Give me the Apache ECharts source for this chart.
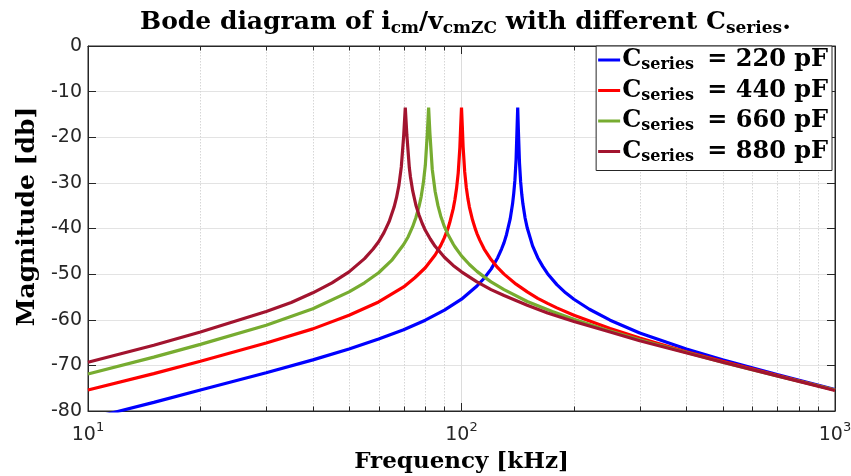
<!DOCTYPE html>
<html><head><meta charset="utf-8">
<script src="https://cdn.jsdelivr.net/npm/echarts@6/dist/echarts.min.js"></script>
<style>html,body{margin:0;padding:0;background:#fff}#c{width:851px;height:476px}</style>
</head><body><div id="c"></div>
<script>
// Capacitance values (pF) for the legend
const capValues = ['220', '440', '660', '880'];
const seriesColors = ['#0000FF', '#FF0000', '#77AC30', '#A2142F'];

// Frequency (kHz) / magnitude (dB)
const freq220 = [10,12,15,20,30,40,50,60,70,80,90,100,110,115,120,125,128,130,132,135,137,138,139,140,141,141.42,142,143,144,145,146,148,150,155,160,165,170,180,190,200,220,250,300,400,500,700,1000];
const mag220  = [-81.8,-80.1,-78.1,-75.4,-71.6,-68.8,-66.4,-64.2,-62.2,-60.1,-57.9,-55.5,-52.6,-50.9,-48.9,-46.4,-44.5,-43.1,-41.3,-37.9,-34.6,-32.3,-29.4,-24.9,-16.8,-13.5,-18.5,-25.7,-29.8,-32.5,-34.6,-37.7,-39.9,-43.8,-46.4,-48.3,-49.9,-52.3,-54.1,-55.5,-57.7,-60.1,-62.9,-66.4,-68.8,-72.0,-75.3];

const freq440 = [10,15,20,30,40,50,60,70,75,80,85,88,90,92,93,95,96,97,98,99,99.5,100,100.5,101,102,103,104,105,107,109,110,112,115,120,125,130,140,150,160,170,180,200,250,300,400,500,700,1000];
const mag440  = [-75.4,-71.8,-69.1,-65.1,-62.0,-59.0,-56.1,-52.8,-50.8,-48.6,-45.8,-43.7,-42.0,-40.0,-38.7,-35.7,-33.7,-31.2,-27.8,-22.2,-17.6,-13.5,-17.6,-22.1,-27.6,-31.0,-33.4,-35.3,-38.1,-40.2,-41.1,-42.6,-44.5,-46.8,-48.6,-50.0,-52.2,-53.9,-55.3,-56.4,-57.4,-59.0,-61.9,-64.0,-67.0,-69.1,-72.2,-75.4];

const freq660 = [10,15,20,30,40,50,55,60,65,70,72,74,75.5,77,78,79,80,81,81.65,82.3,83.5,85,86.5,88,90,92,95,96,100,105,110,115,120,130,150,175,200,250,300,500,700,1000];
const mag660  = [-71.9,-68.2,-65.4,-61.2,-57.6,-53.9,-51.9,-49.7,-47.0,-43.5,-41.8,-39.6,-37.6,-35.1,-33.0,-30.1,-26.2,-19.2,-13.5,-19.1,-27.0,-31.9,-35.0,-37.3,-39.6,-41.3,-43.4,-44.0,-46.0,-47.9,-49.4,-50.6,-51.7,-53.4,-56.0,-58.2,-59.9,-62.5,-64.4,-69.3,-72.3,-75.4];

const freq880 = [10,15,20,30,35,40,45,50,55,58,60,62,64,66,67,68,69,70,70.71,71.4,72.5,73,74,75.5,77,78.5,80,82.5,85,90,95,100,110,120,130,150,170,200,250,300,500,700,1000];
const mag880  = [-69.3,-65.6,-62.7,-58.2,-56.2,-54.1,-51.9,-49.5,-46.6,-44.5,-42.9,-40.9,-38.5,-35.3,-33.2,-30.5,-26.5,-19.8,-13.5,-19.5,-26.7,-28.7,-31.7,-34.9,-37.1,-38.9,-40.4,-42.3,-43.9,-46.3,-48.1,-49.5,-51.7,-53.4,-54.7,-56.8,-58.5,-60.4,-62.7,-64.6,-69.3,-72.3,-75.5];

// Axis tick values
const xMajorTicks = [10, 100, 1000];
const xMinorTicks = [20,30,40,50,60,70,80,90,200,300,400,500,600,700,800,900];
const yTicks = [0,-10,-20,-30,-40,-50,-60,-70,-80];

const freqs = [freq220, freq440, freq660, freq880];
const mags = [mag220, mag440, mag660, mag880];

const serifBold = {fontFamily: 'DejaVu Serif', fontWeight: 'bold', color: '#000'};
const richSet = (size, subSize, lh) => ({
  t: Object.assign({fontSize: size, lineHeight: lh, verticalAlign: 'middle'}, serifBold),
  s: Object.assign({fontSize: subSize, lineHeight: subSize, verticalAlign: 'bottom'}, serifBold)
});

const series = capValues.map((c, i) => ({
  name: c,
  type: 'line',
  showSymbol: false,
  symbol: 'none',
  z: 3,
  lineStyle: {width: 3.2, color: seriesColors[i]},
  itemStyle: {color: seriesColors[i]},
  data: freqs[i].map((f, k) => [f, mags[i][k]])
}));

// minor log grid lines and minor ticks (top & bottom), positioned through the axis scales
series.push({
  name: 'minor',
  type: 'custom',
  z: 1,
  silent: true,
  encode: {x: 0, y: 1},
  data: xMinorTicks.map(v => [v, 0]),
  renderItem: (params, api) => {
    const v = api.value(0);
    const top = api.coord([v, 0]);
    const bot = api.coord([v, -80]);
    const x = Math.round(top[0]) + 0.5;
    return {
      type: 'group',
      children: [
        {type: 'line', shape: {x1: x, y1: top[1], x2: x, y2: bot[1]},
         style: {stroke: '#d6d6d6', lineWidth: 1, lineDash: [1.5, 1.5]}},
        {type: 'line', shape: {x1: x, y1: bot[1], x2: x, y2: bot[1] - 4.5},
         style: {stroke: '#262626', lineWidth: 1}},
        {type: 'line', shape: {x1: x, y1: top[1], x2: x, y2: top[1] + 4.5},
         style: {stroke: '#262626', lineWidth: 1}}
      ]
    };
  }
});

const chart = echarts.init(document.getElementById('c'));
chart.setOption({
  animation: false,
  backgroundColor: '#fff',
  title: {
    text: '{t|Bode diagram of i}{s|cm}{t|/v}{s|cmZC}{t| with different C}{s|series}{t|.}',
    left: 140,
    top: 7,
    padding: 0,
    textStyle: {rich: richSet(25, 17, 30)}
  },
  legend: {
    data: capValues,
    orient: 'vertical',
    right: 19,
    top: 46,
    padding: [2, 4, 6, 2],
    itemGap: 5.5,
    itemWidth: 22,
    itemHeight: 3,
    icon: 'rect',
    backgroundColor: '#fff',
    borderColor: '#262626',
    borderWidth: 1,
    formatter: name => '{t|C}{s|series}{t| \u2009= ' + name + ' pF}',
    textStyle: {padding: [0, 0, 0, -3], rich: richSet(24, 16, 26)}
  },
  grid: {left: 88, right: 16, top: 46, bottom: 65, show: true, borderColor: '#262626', borderWidth: 1,
         outerBoundsMode: 'none', containLabel: false},
  xAxis: [{
    type: 'log',
    logBase: 10,
    min: 10,
    max: 1000,
    name: 'Frequency [kHz]',
    nameLocation: 'middle',
    nameGap: 40,
    nameTextStyle: Object.assign({fontSize: 23}, serifBold),
    axisLine: {show: true, onZero: false, lineStyle: {color: '#262626'}},
    axisTick: {show: true, inside: true, length: 8, lineStyle: {color: '#262626'}},
    axisLabel: {
      margin: 10,
      formatter: v => '{b|10}{p|' + Math.round(Math.log10(v)) + '}',
      rich: {
        b: {fontFamily: 'DejaVu Sans', fontSize: 19, color: '#262626', lineHeight: 24, verticalAlign: 'bottom'},
        p: {fontFamily: 'DejaVu Sans', fontSize: 13, color: '#262626', lineHeight: 13, verticalAlign: 'top'}
      }
    },
    splitLine: {show: true, lineStyle: {color: '#dcdcdc', width: 1}}
  }, {
    type: 'log', logBase: 10, min: 10, max: 1000, position: 'top',
    axisLine: {show: true, onZero: false, lineStyle: {color: '#262626'}},
    axisTick: {show: true, inside: true, length: 8, lineStyle: {color: '#262626'}},
    axisLabel: {show: false}, splitLine: {show: false}
  }],
  yAxis: [{
    type: 'value',
    min: -80,
    max: 0,
    interval: 10,
    name: 'Magnitude [db]',
    nameLocation: 'middle',
    nameGap: 41,
    nameTextStyle: Object.assign({fontSize: 25, padding: [0, 0, 0, 24]}, serifBold),
    axisLine: {show: true, onZero: false, lineStyle: {color: '#262626'}},
    axisTick: {show: true, inside: true, length: 8, lineStyle: {color: '#262626'}},
    axisLabel: {fontFamily: 'DejaVu Sans', fontSize: 19, color: '#262626', margin: 6},
    splitLine: {show: true, lineStyle: {color: '#e3e3e3', width: 1}}
  }, {
    type: 'value', min: -80, max: 0, interval: 10, position: 'right',
    axisLine: {show: true, onZero: false, lineStyle: {color: '#262626'}},
    axisTick: {show: true, inside: true, length: 8, lineStyle: {color: '#262626'}},
    axisLabel: {show: false}, splitLine: {show: false}
  }],
  series: series
});
</script>
</body></html>
